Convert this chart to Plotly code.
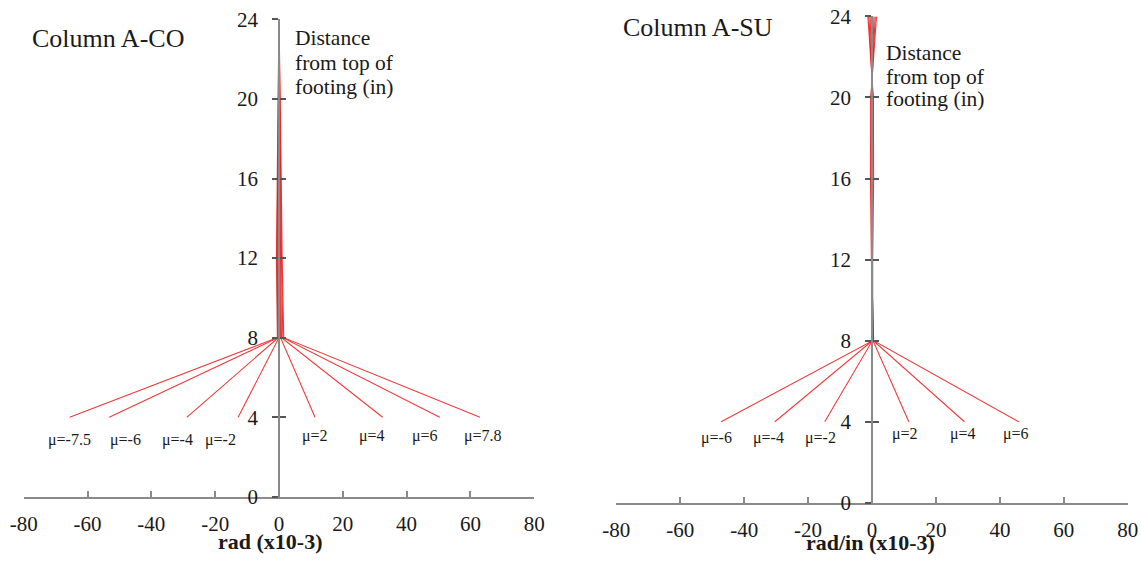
import plotly.graph_objects as go

# ---------------- data ----------------
heights = [4, 8, 12, 16, 20, 24]

# Column A-CO (rad x10-3): x at each height, one list per mu
co_mu = ["-7.5", "-6", "-4", "-2", "2", "4", "6", "7.8"]
co_x = [
    [-65.6, -0.5, -0.8, -0.6, -0.3, 0.0],
    [-53.2, -0.3, -0.6, -0.4, -0.2, 0.0],
    [-28.9, -0.2, -0.4, -0.3, -0.1, 0.0],
    [-12.8, 0.0, -0.2, -0.1, 0.0, 0.0],
    [11.3, 0.5, 0.3, 0.2, 0.1, 0.0],
    [32.5, 0.8, 0.5, 0.4, 0.2, 0.0],
    [50.4, 1.2, 0.8, 0.6, 0.3, 0.0],
    [63.0, 1.5, 1.0, 0.8, 0.4, 0.0],
]
co_label_x = [-65.8, -48.2, -31.7, -18.4, 11.3, 29.3, 45.8, 64.1]
co_label_y = [2.85, 2.85, 2.85, 2.85, 3.05, 3.05, 3.05, 3.05]

# Column A-SU (rad/in x10-3)
su_mu = ["-6", "-4", "-2", "2", "4", "6"]
su_x = [
    [-47.2, 0.2, 0.2, 0.5, 0.4, -1.3],
    [-30.4, 0.1, 0.1, 0.3, 0.3, -1.0],
    [-14.8, 0.1, 0.0, 0.2, 0.2, -0.6],
    [11.5, 0.3, 0.0, -0.2, -0.2, 0.6],
    [28.9, 0.4, -0.1, -0.3, -0.3, 1.0],
    [45.9, 0.5, -0.2, -0.5, -0.4, 1.4],
]
su_label_x = [-48.5, -32.3, -16.2, 10.4, 28.6, 44.9]
su_label_y = [3.2, 3.2, 3.2, 3.4, 3.4, 3.4]

x_ticks = [-80, -60, -40, -20, 0, 20, 40, 60, 80]
x_tick_text = ["-80", "-60", "-40", "-20", "0", "20", "40", "60", "80"]
y_ticks = [0, 4, 8, 12, 16, 20, 24]
y_tick_text = ["0", "4", "8", "12", "16", "20", "24"]

# ---------------- layout helpers ----------------
W, H = 1141, 565
SX, OX = 0.978, 13.3
SY, OY = 0.9625, 10.6

def X(p):
    return min(max((p - OX) / SX / W, 0), 1)

def Y(p):
    return min(max(1 - (p - OY) / SY / H, 0), 1)

SERIF = "Liberation Serif, Times New Roman, serif"
TXT = "#1a1a1a"
AX = "#8a8a8a"
RED = "rgba(235,25,25,0.85)"

fig = go.Figure()
for xs in co_x:
    fig.add_trace(go.Scatter(x=xs, y=heights, mode="lines", xaxis="x", yaxis="y",
                             line=dict(color=RED, width=1.1), showlegend=False, hoverinfo="skip"))
for xs in su_x:
    fig.add_trace(go.Scatter(x=xs, y=heights, mode="lines", xaxis="x2", yaxis="y2",
                             line=dict(color=RED, width=1.1), showlegend=False, hoverinfo="skip"))
fig.add_trace(go.Scatter(x=[0], y=[0], mode="markers", xaxis="x", yaxis="y3",
                         marker=dict(opacity=0), showlegend=False, hoverinfo="skip"))
fig.add_trace(go.Scatter(x=[0], y=[0], mode="markers", xaxis="x2", yaxis="y4",
                         marker=dict(opacity=0), showlegend=False, hoverinfo="skip"))

tickfont = dict(family=SERIF, size=21, color=TXT)

def xaxis(domain, anchor):
    return dict(domain=domain, anchor=anchor, range=[-80, 80], tickvals=x_ticks, ticktext=x_tick_text,
                showgrid=False, zeroline=False, showline=True, linecolor=AX, linewidth=1.5,
                ticks="inside", ticklen=6, tickcolor=AX, tickwidth=1.5, ticklabeloverflow="allow",
                tickfont=tickfont, ticklabelstandoff=7, fixedrange=True)

def yaxis(domain, pos, labels=True, ticks="outside", overlay=None):
    d = dict(domain=domain, anchor="free", position=pos, range=[0, 24], tickvals=y_ticks, ticktext=y_tick_text,
             showgrid=False, zeroline=False, showline=True, linecolor=AX, linewidth=1.5,
             ticks=ticks, ticklen=6, tickcolor="#555555", tickwidth=1.5, ticklabeloverflow="allow",
             showticklabels=labels, tickfont=tickfont, ticklabelstandoff=10, fixedrange=True)
    if overlay:
        d["overlaying"] = overlay
    return d

fig.update_layout(
    width=W, height=H,
    margin=dict(l=0, r=0, t=0, b=0, pad=0),
    paper_bgcolor="white", plot_bgcolor="rgba(0,0,0,0)",
    xaxis=xaxis([X(23), X(533)], "y"),
    xaxis2=xaxis([X(615), X(1126)], "y2"),
    yaxis=yaxis([Y(498), Y(18)], X(278)),
    yaxis2=yaxis([Y(504), Y(15)], X(870.5)),
    yaxis3=yaxis([Y(498), Y(18)], X(278), labels=False, ticks="inside", overlay="y"),
    yaxis4=yaxis([Y(504), Y(15)], X(870.5), labels=False, ticks="inside", overlay="y2"),
)

ann = []
for lab, lx, ly in zip(co_mu, co_label_x, co_label_y):
    ann.append(dict(x=lx, y=ly, xref="x", yref="y", text="\u03bc=" + lab, showarrow=False,
                    xanchor="center", yanchor="middle", font=dict(family=SERIF, size=16, color=TXT)))
for lab, lx, ly in zip(su_mu, su_label_x, su_label_y):
    ann.append(dict(x=lx, y=ly, xref="x2", yref="y2", text="\u03bc=" + lab, showarrow=False,
                    xanchor="center", yanchor="middle", font=dict(family=SERIF, size=16, color=TXT)))
ann.append(dict(x=X(29), y=Y(37), xref="paper", yref="paper", text="Column A-CO", showarrow=False,
                xanchor="left", yanchor="middle", font=dict(family=SERIF, size=26, color=TXT)))
ann.append(dict(x=X(620), y=Y(26), xref="paper", yref="paper", text="Column A-SU", showarrow=False,
                xanchor="left", yanchor="middle", font=dict(family=SERIF, size=26, color=TXT)))
dist_lines = ["Distance", "from top of", "footing (in)"]
for line, yl in zip(dist_lines, [37, 62, 86]):
    ann.append(dict(x=X(292), y=Y(yl), xref="paper", yref="paper", text=line, showarrow=False,
                    xanchor="left", yanchor="middle", font=dict(family=SERIF, size=21.5, color=TXT)))
for line, yl in zip(dist_lines, [52, 76, 98]):
    ann.append(dict(x=X(882), y=Y(yl), xref="paper", yref="paper", text=line, showarrow=False,
                    xanchor="left", yanchor="middle", font=dict(family=SERIF, size=21.5, color=TXT)))
ann.append(dict(x=X(269), y=Y(543), xref="paper", yref="paper", text="<b>rad (x10-3)</b>", showarrow=False,
                xanchor="center", yanchor="middle", font=dict(family=SERIF, size=22, color=TXT)))
ann.append(dict(x=X(869), y=Y(544), xref="paper", yref="paper", text="<b>rad/in (x10-3)</b>", showarrow=False,
                xanchor="center", yanchor="middle", font=dict(family=SERIF, size=22, color=TXT)))
fig.update_layout(annotations=ann)

js = """
(function(){
var gd=document.getElementsByClassName('plotly-graph-div')[0];
document.documentElement.style.margin='0';document.body.style.margin='0';
document.documentElement.style.overflow='hidden';document.body.style.overflow='hidden';
gd.style.position='fixed';gd.style.left='0px';gd.style.top='0px';
})();
"""
fig.write_html("out.html", config={"displayModeBar": False, "responsive": False}, post_script=js)
